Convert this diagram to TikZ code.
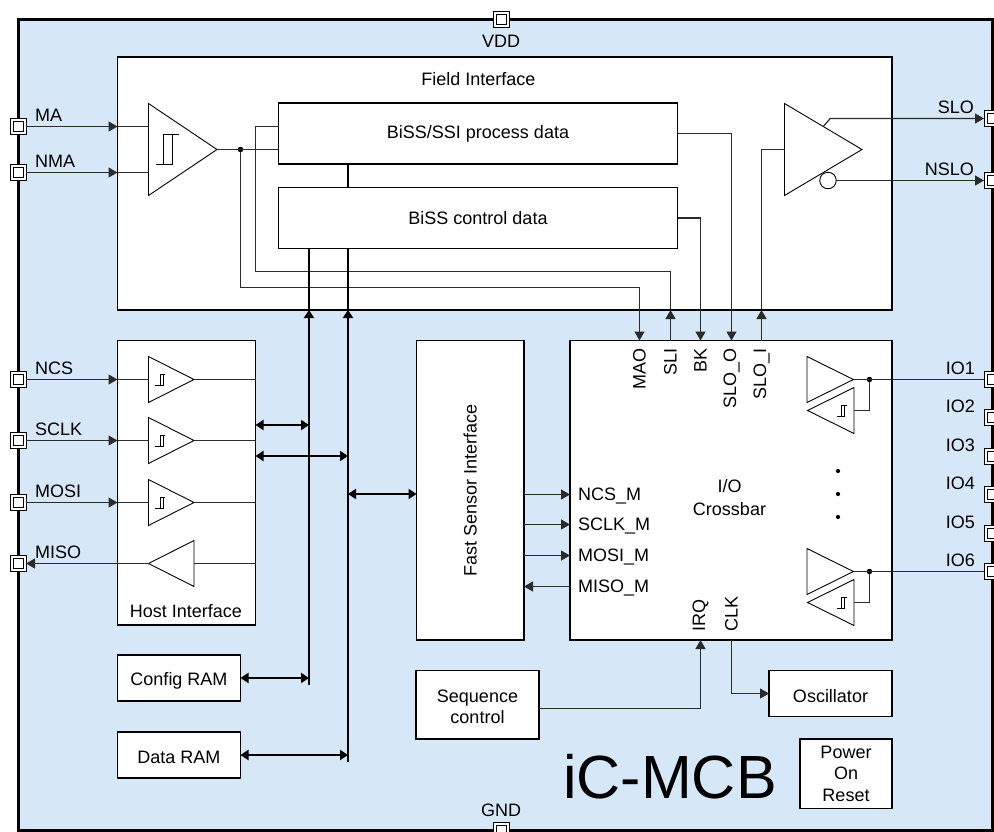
\documentclass[tikz,border=0pt]{standalone}
\usepackage{fontspec}
\setmainfont{Liberation Sans}
\usetikzlibrary{arrows.meta,calc,shapes.geometric}
\definecolor{mcbChip}{HTML}{D6E7F8}
\definecolor{mcbWire}{HTML}{2B2B2B}
\tikzset{
  block/.style={draw=black,line width=1.2pt,fill=white,rectangle,inner sep=0pt,outer sep=0pt,
                anchor=north west,align=center,minimum width=#1},
  lowtext/.style={text height=18pt},
  pad/.style={draw=black,fill=white,rectangle,line width=1pt,minimum size=16pt,inner sep=0pt,outer sep=0pt,
              path picture={\draw[black,line width=1pt] (path picture bounding box.center) +(-5,-5) rectangle +(5,5);}},
  amp/.style n args={3}{isosceles triangle,isosceles triangle stretches,shape border rotate=#1,
              draw=black,fill=white,line width=.9pt,inner sep=0pt,outer sep=0pt,
              minimum width=#3,minimum height=#2,anchor=apex},
  wire/.style={draw=mcbWire,line width=1.2pt},
  arrowwire/.style={wire,-{Triangle[length=9pt,width=10pt]}},
  bus/.style={draw=black,line width=2.2pt},
  busboth/.style={bus,{Triangle[length=8pt,width=10pt]}-{Triangle[length=8pt,width=10pt]}},
  junction/.style={circle,fill=black,inner sep=0pt,minimum size=#1},
  pinlabel/.style={inner sep=0pt,anchor=west,text depth=0pt},
  pinlabelR/.style={inner sep=0pt,anchor=east},
  portup/.style={rotate=90,inner sep=0pt,anchor=east},
  portdown/.style={rotate=90,inner sep=0pt,anchor=west},
  hystbig/.pic={\draw[line width=.9pt] (-11.5,15) -- (4.5,15) -- (4.5,-15) (-4.5,15) -- (-4.5,-15) -- (11.5,-15);},
  hystsmall/.pic={\draw[line width=.9pt] (-4.5,5.5) -- (3.5,5.5) -- (3.5,-5.5) (.5,5.5) -- (.5,-5.5) -- (5.5,-5.5);},
}
\begin{document}
\begin{tikzpicture}[x=1pt,y=-1pt,font=\fontsize{18}{21}\selectfont]
\useasboundingbox (0,0) rectangle (994,831);
\node[block=974pt,minimum height=811pt,fill=mcbChip,line width=3pt] (chip) at (18,19) {};

% pads on the chip border
\foreach \pname/\py in {MA/126.5,NMA/172.5,NCS/379.5,SCLK/440.5,MOSI/502.5,MISO/563.5}
  {\node[pad] (pin\pname) at (18,\py) {};
   \node[pinlabel] (lbl\pname) at (35,\py-11) {\pname};}
\foreach \pname/\py in {SLO/118.5,NSLO/180.5}
  {\node[pad] (pin\pname) at (992,\py) {};
   \node[pinlabelR] (lbl\pname) at (974,\py-11.5) {\pname};}
\foreach \pname/\py in {IO1/379.5,IO2/417.5,IO3/456,IO4/494,IO5/533,IO6/571.5}
  {\node[pad] (pin\pname) at (992,\py) {};
   \node[pinlabelR] (lbl\pname) at (975,\py-11) {\pname};}
\node[pad] (pinVDD) at (501,19) {};
\node[pad] (pinGND) at (501,830) {};
\node (lblVDD) at (501,41) {VDD};
\node (lblGND) at (501,810) {GND};

% blocks
\node[block=774.5pt,minimum height=253pt] (fieldBox) at (117.5,57) {};
\node (fieldLbl) at (478.5,79) {Field Interface};
\node[block=399pt,minimum height=61pt] (procBox) at (278.5,103) {BiSS/SSI process data};
\node[block=399pt,minimum height=61pt] (ctrlBox) at (278.5,187.5) {BiSS control data};
\node[block=138pt,minimum height=284.5pt] (hostBox) at (117.5,340.5) {};
\node (hostLbl) at (186,611) {Host Interface};
\node[block=123pt,minimum height=46pt,lowtext] (cfgBox) at (117.5,655) {Config RAM};
\node[block=123pt,minimum height=46pt,lowtext] (dataBox) at (117.5,732) {Data RAM};
\node[block=107.5pt,minimum height=299.5pt] (fastBox) at (416.5,340.5) {};
\node[rotate=90] (fastLbl) at (fastBox.center) {Fast Sensor Interface};
\node[block=322pt,minimum height=299.5pt] (xbarBox) at (570,340.5) {};
\node[align=center] (xbarLbl) at (729.5,498) {I/O\\[2pt]Crossbar};
\node[block=123pt,minimum height=68.5pt] (seqBox) at (416,670.5) {\rule{0pt}{17pt}Sequence\\control};
\node[block=123pt,minimum height=46pt,lowtext] (oscBox) at (769,670.5) {Oscillator};
\node[block=92pt,minimum height=69.5pt] (porBox) at (800,739) {Power\\[.5pt]On\\[.5pt]Reset};
\node[font=\fontsize{61}{62}\selectfont,inner sep=0pt] (chipName) at (670,777) {iC-MCB};

% field interface amplifiers
\node[amp={0}{68.5pt}{92pt}] (ampField) at (217,149.5) {};
\node[amp={0}{77.5pt}{92pt}] (drvField) at (862,149.5) {};
\pic at ($(ampField.west)+(19,0)$) {hystbig};
\node[circle,draw=black,fill=white,line width=.9pt,inner sep=0pt,outer sep=0pt,minimum size=16.5pt] (nsloBubble) at (828,180.5) {};
\node[junction=5.5pt] (ampDot) at (240.5,149.5) {};
\coordinate (sloTap) at ($(drvField.left corner)!.5!(drvField.apex)$);

\foreach \pname in {MA,NMA}
  {\draw[arrowwire] (pin\pname.east) -- (fieldBox.west |- pin\pname);
   \draw[wire] (fieldBox.west |- pin\pname) -- (ampField.west |- pin\pname);}
\draw[wire] (ampField.apex) -- (ampField.apex -| procBox.west);
\draw[wire] (ampDot) -- (240.5,287.5) -- (639.5,287.5) coordinate (maoCorner);
\draw[arrowwire] (maoCorner) -- (maoCorner |- xbarBox.north);
\draw[wire] (procBox.west |- 0,126.5) -- (255.5,126.5) -- (255.5,271.5) -- (670.5,271.5) coordinate (sliCorner);
\draw[arrowwire] (sliCorner |- xbarBox.north) -- (sliCorner |- fieldBox.south);
\draw[wire] (sliCorner |- fieldBox.south) -- (sliCorner);
\draw[arrowwire] (ctrlBox.east) -- (700.5,218) coordinate (bkCorner) -- (bkCorner |- xbarBox.north);
\draw[arrowwire] (procBox.east) -- (731.5,133.5) coordinate (sloCorner) -- (sloCorner |- xbarBox.north);
\draw[arrowwire] (761.5,340.5) coordinate (sloIport) -- (sloIport |- fieldBox.south);
\draw[wire] (sloIport |- fieldBox.south) -- (761.5,149.5) -- (drvField.west);
\draw[arrowwire] (sloTap) -- ++(7,-8) -- (pinSLO.west);
\draw[arrowwire] (nsloBubble.east) -- (pinNSLO.west);

% host interface
\foreach \pname/\py in {NCS/379.5,SCLK/440.5,MOSI/502.5}
  {\node[amp={0}{45.5pt}{46pt}] (host\pname) at (194,\py) {};
   \pic at ($(host\pname.west)+(11,0)$) {hystsmall};
   \draw[arrowwire] (pin\pname.east) -- (hostBox.west |- pin\pname);
   \draw[wire] (hostBox.west |- pin\pname) -- (host\pname.west);
   \draw[wire] (host\pname.apex) -- (hostBox.east |- pin\pname);}
\node[amp={180}{45.5pt}{46pt}] (hostMISO) at (148.5,563.5) {};
\draw[wire] (hostBox.east |- pinMISO) -- (hostMISO.east);
\draw[arrowwire] (hostMISO.apex) -- (pinMISO.east);

% internal busses
\draw[bus] (ctrlBox.south -| 309,0) -- (309,685) coordinate (busAend);
\draw[bus] (procBox.south -| 348,0) -- (ctrlBox.north -| 348,0);
\draw[bus] (ctrlBox.south -| 348,0) -- (348,762) coordinate (busBend);
\foreach \busend in {busAend,busBend}
  \draw[bus,-{Triangle[length=8pt,width=10pt]}] (\busend) -- (\busend |- fieldBox.south);
\coordinate (busAhost) at (309,425);
\coordinate (busBhost) at (348,456);
\coordinate (busBfast) at (348,494);
\draw[busboth] (hostBox.east |- busAhost) -- (busAhost);
\draw[busboth] (hostBox.east |- busBhost) -- (busBhost);
\draw[busboth] (busBfast) -- (fastBox.west |- busBfast);
\draw[busboth] (cfgBox.east) -- (cfgBox.east -| busAend);
\draw[busboth] (dataBox.east) -- (dataBox.east -| busBend);

% crossbar ports
\foreach \pname/\px in {MAO/639.5,SLI/670.5,BK/700.5,SLO\_O/731.5,SLO\_I/761.5}
  \node[portup] (port\px) at (\px,348.5) {\pname};
\foreach \pname/\px in {IRQ/700.5,CLK/731.5}
  \node[portdown] (port\px) at (\px,632) {\pname};
\foreach \pname/\py in {NCS/494.5,SCLK/524.5,MOSI/555.5}
  {\node[pinlabel] (lbl\pname M) at (578,\py) {\pname\_M};
   \draw[arrowwire] (fastBox.east |- lbl\pname M) -- (xbarBox.west |- lbl\pname M);}
\node[pinlabel] (lblMISOM) at (578,586.5) {MISO\_M};
\draw[arrowwire] (xbarBox.west |- lblMISOM) -- (fastBox.east |- lblMISOM);

% crossbar io cells
\foreach \topio/\dy in {IO1/0,IO6/192}
  {\node[amp={0}{46.5pt}{46pt}] (out\topio) at (853.5,379.5+\dy) {};
   \node[amp={180}{46.5pt}{46pt}] (in\topio) at (807.5,410.5+\dy) {};
   \pic at ($(in\topio.east)+(-13,0)$) {hystsmall};
   \node[junction=5.5pt] (dot\topio) at (869.5,379.5+\dy) {};
   \draw[wire] (out\topio.apex) -- (pin\topio.west);
   \draw[wire] (dot\topio) |- (in\topio.east);}
\foreach \dotn/\py in {a/471,b/494,c/517}
  \node[junction=4.2pt] (dots\dotn) at (838,\py) {};

% sequence and clock
\coordinate (irqCorner) at (700.5,708.5);
\draw[wire] (seqBox.east |- irqCorner) -- (irqCorner);
\draw[arrowwire] (irqCorner) -- (irqCorner |- xbarBox.south);
\draw[arrowwire] (731.5,640) coordinate (clkPort) |- (oscBox.west);
\end{tikzpicture}
\end{document}
